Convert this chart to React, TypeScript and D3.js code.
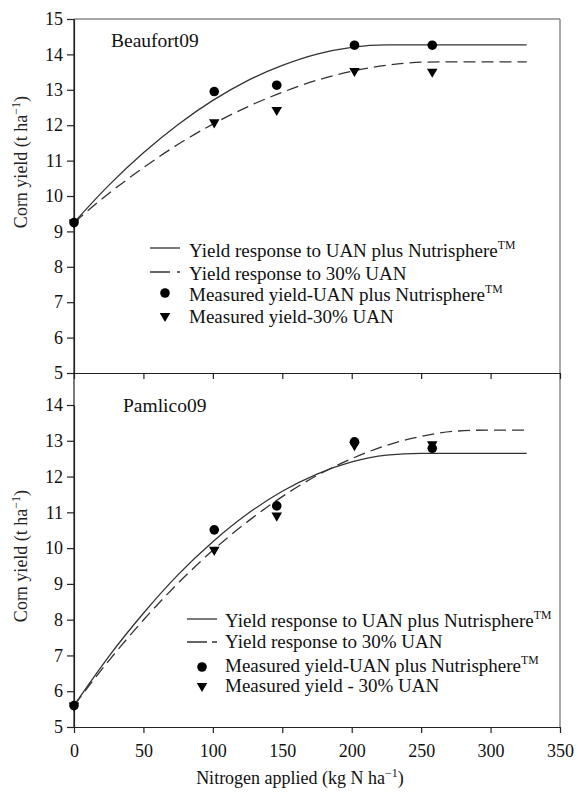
import React, { useEffect, useRef } from 'react';
import * as d3 from 'd3';

// measured yields (t/ha) at each N rate
const nRates = [0, 101, 146, 202, 258];
const beaufortUanNs = [9.25, 12.95, 13.13, 14.26, 14.26];
const beaufortUan30 = [9.25, 12.08, 12.43, 13.53, 13.51];
const pamlicoUanNs = [5.6, 10.51, 11.18, 12.97, 12.79];
const pamlicoUan30 = [5.6, 9.95, 10.91, 12.88, 12.9];

// fitted response curves
const fitRates = [0, 25, 50, 75, 100, 125, 150, 175, 200, 225, 250, 275, 300, 326];
const beaufortFitNs = [9.25, 10.3, 11.22, 12.02, 12.7, 13.26, 13.69, 14.01, 14.2, 14.27, 14.27, 14.27, 14.27, 14.27];
const beaufortFit30 = [9.25, 10.07, 10.8, 11.46, 12.03, 12.52, 12.93, 13.27, 13.52, 13.69, 13.78, 13.79, 13.79, 13.79];
const pamlicoFitNs = [5.6, 6.97, 8.18, 9.26, 10.18, 10.96, 11.59, 12.07, 12.41, 12.6, 12.65, 12.65, 12.65, 12.65];
const pamlicoFit30 = [5.6, 6.85, 7.99, 9.02, 9.94, 10.74, 11.44, 12.03, 12.5, 12.87, 13.12, 13.27, 13.3, 13.3];

const xTicks = [0, 50, 100, 150, 200, 250, 300, 350];
const yTicksTop = [5, 6, 7, 8, 9, 10, 11, 12, 13, 14, 15];
const yTicksBottom = [5, 6, 7, 8, 9, 10, 11, 12, 13, 14];

const FONT = "'Liberation Serif', 'Times New Roman', serif";

export default function App() {
  const svgRef = useRef<SVGSVGElement | null>(null);

  useEffect(() => {
    if (!svgRef.current) return;
    const svg = d3.select(svgRef.current);
    svg.selectAll('*').remove();

    const left = 74, right = 560;
    const topY = 19, midY = 373, botY = 727;

    const x = d3.scaleLinear().domain([0, 350]).range([left, right]);
    const yTop = d3.scaleLinear().domain([5, 15]).range([midY, topY]);
    const yBot = d3.scaleLinear().domain([5, 14]).range([botY, 405]);

    // frame (grey top/right)
    svg.append('line').attr('x1', left).attr('x2', right).attr('y1', topY).attr('y2', topY)
      .attr('stroke', '#8a8a8a').attr('stroke-width', 1.5);
    svg.append('line').attr('x1', right).attr('x2', right).attr('y1', topY).attr('y2', botY)
      .attr('stroke', '#8a8a8a').attr('stroke-width', 1.5);

    const styleAxis = (g: any) => {
      g.selectAll('path,line').attr('stroke', '#222').attr('stroke-width', 1.2);
      g.selectAll('text').attr('font-family', FONT).attr('font-size', 18).attr('fill', '#111');
    };

    // y axes
    svg.append('g').attr('transform', `translate(${left},0)`)
      .call(d3.axisLeft(yTop).tickValues(yTicksTop).tickSize(7).tickSizeOuter(0).tickPadding(4))
      .call(styleAxis);
    svg.append('g').attr('transform', `translate(${left},0)`)
      .call(d3.axisLeft(yBot).tickValues(yTicksBottom).tickSize(7).tickSizeOuter(0).tickPadding(4))
      .call(styleAxis);
    svg.append('line').attr('x1', left).attr('x2', left).attr('y1', topY).attr('y2', botY)
      .attr('stroke', '#222').attr('stroke-width', 1.2);

    // x axes
    svg.append('g').attr('transform', `translate(0,${midY})`)
      .call(d3.axisBottom(x).tickValues(xTicks).tickSize(6).tickSizeOuter(0).tickFormat(() => ''))
      .call(styleAxis);
    svg.append('g').attr('transform', `translate(0,${botY})`)
      .call(d3.axisBottom(x).tickValues(xTicks).tickSize(6).tickSizeOuter(0).tickPadding(11))
      .call(styleAxis);

    const drawPanel = (
      y: d3.ScaleLinear<number, number>,
      fitNs: number[], fit30: number[], ptsNs: number[], pts30: number[]
    ) => {
      const line = d3.line<number>()
        .x((_, i) => x(fitRates[i]))
        .y((d) => y(d))
        .curve(d3.curveMonotoneX);
      svg.append('path').attr('d', line(fitNs)).attr('fill', 'none')
        .attr('stroke', '#333').attr('stroke-width', 1.3);
      svg.append('path').attr('d', line(fit30)).attr('fill', 'none')
        .attr('stroke', '#333').attr('stroke-width', 1.3).attr('stroke-dasharray', '12,6');

      svg.append('g').selectAll('path').data(pts30).join('path')
        .attr('d', d3.symbol().type(d3.symbolTriangle).size(48)() as string)
        .attr('transform', (d, i) => `translate(${x(nRates[i])},${y(d)}) rotate(180)`)
        .attr('fill', '#000');
      svg.append('g').selectAll('circle').data(ptsNs).join('circle')
        .attr('cx', (_, i) => x(nRates[i])).attr('cy', (d) => y(d))
        .attr('r', 4.8).attr('fill', '#000');
    };

    drawPanel(yTop, beaufortFitNs, beaufortFit30, beaufortUanNs, beaufortUan30);
    drawPanel(yBot, pamlicoFitNs, pamlicoFit30, pamlicoUanNs, pamlicoUan30);

    const label = (tx: number, ty: number, main: string, sup?: string, size = 19) => {
      const t = svg.append('text').attr('x', tx).attr('y', ty)
        .attr('font-family', FONT).attr('font-size', size).attr('fill', '#111');
      t.append('tspan').text(main);
      if (sup) t.append('tspan').attr('font-size', size * 0.62).attr('dy', -size * 0.4).text(sup);
      return t;
    };

    // panel names
    label(111, 47, 'Beaufort09', undefined, 19.5);
    label(123, 412, 'Pamlico09', undefined, 19.5);

    // legends
    const legend = (lx: number, tx: number, dash: string, rows: number[], lineYs: number[], texts: string[][]) => {
      svg.append('line').attr('x1', lx).attr('x2', lx + 30).attr('y1', lineYs[0]).attr('y2', lineYs[0])
        .attr('stroke', '#333').attr('stroke-width', 1.3);
      svg.append('line').attr('x1', lx).attr('x2', lx + 30).attr('y1', lineYs[1]).attr('y2', lineYs[1])
        .attr('stroke', '#333').attr('stroke-width', 1.3).attr('stroke-dasharray', dash);
      svg.append('circle').attr('cx', lx + 15).attr('cy', lineYs[2]).attr('r', 4.8).attr('fill', '#000');
      svg.append('path').attr('d', d3.symbol().type(d3.symbolTriangle).size(48)() as string)
        .attr('transform', `translate(${lx + 15},${lineYs[3]}) rotate(180)`).attr('fill', '#000');
      texts.forEach((t, i) => label(tx, rows[i], t[0], t[1]));
    };

    legend(150, 189, '20,7,3,100', [257, 280, 301, 323], [248, 272, 293, 316], [
      ['Yield response to UAN plus Nutrisphere', 'TM'],
      ['Yield response to 30% UAN'],
      ['Measured yield-UAN plus Nutrisphere', 'TM'],
      ['Measured yield-30% UAN'],
    ]);
    legend(187, 225, '20,5,5,100', [627, 648, 672, 692], [619, 642, 667, 686], [
      ['Yield response to UAN plus Nutrisphere', 'TM'],
      ['Yield response to 30% UAN'],
      ['Measured yield-UAN plus Nutrisphere', 'TM'],
      ['Measured yield - 30% UAN'],
    ]);

    // axis titles
    const yTitle = (cy: number) => {
      const t = svg.append('text')
        .attr('transform', `translate(27,${cy}) rotate(-90)`)
        .attr('text-anchor', 'middle')
        .attr('font-family', FONT).attr('font-size', 18).attr('fill', '#222');
      t.append('tspan').text('Corn yield (t ha');
      t.append('tspan').attr('font-size', 12).attr('dy', -7).text('−1');
      t.append('tspan').attr('dy', 7).text(')');
    };
    yTitle(162);
    yTitle(556);

    const xt = svg.append('text').attr('x', 300).attr('y', 784).attr('text-anchor', 'middle')
      .attr('font-family', FONT).attr('font-size', 18).attr('fill', '#111');
    xt.append('tspan').text('Nitrogen applied (kg N ha');
    xt.append('tspan').attr('font-size', 12).attr('dy', -7).text('−1');
    xt.append('tspan').attr('dy', 7).text(')');
  }, []);

  return (
    <svg
      ref={svgRef}
      width={578}
      height={792}
      style={{ position: 'absolute', left: 0, top: 0, background: '#fff' }}
    />
  );
}
